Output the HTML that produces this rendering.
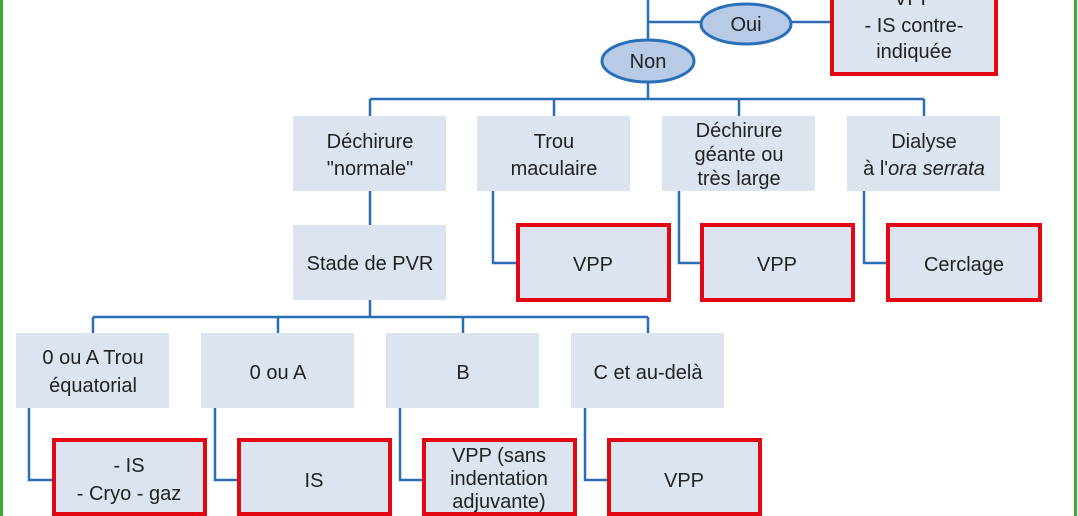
<!DOCTYPE html>
<html><head><meta charset="utf-8"><style>
body{margin:0;background:#fff}
svg{display:block}
text{font-family:"Liberation Sans",sans-serif;font-size:20px;fill:#222;text-anchor:middle}
</style></head><body>
<svg width="1078" height="516" viewBox="0 0 1078 516">
<rect x="0" y="0" width="3" height="516" fill="#3aa935"/>
<rect x="1074" y="0" width="3" height="516" fill="#3aa935"/>
<g stroke="#2a6fb5" stroke-width="2.5" fill="none">
<path d="M648 0V99M648 22H705M790 22H832"/>
<path d="M370 99H924M370 99V116M554 99V116M739 99V116M924 99V116"/>
<path d="M370 191V225M370 300V317M93 317H648M93 317V333M278 317V333M463 317V333M648 317V333"/>
<path d="M493 191V263H518M679 191V263H702M864 191V263H888"/>
<path d="M29 408V480H54M215 408V480H239M400 408V480H424M585 408V480H609"/>
</g>
<ellipse cx="746" cy="24" rx="45" ry="20" fill="#b7cbe6" stroke="#2a70b8" stroke-width="3"/>
<text x="746" y="31">Oui</text>
<ellipse cx="648" cy="61" rx="46" ry="21" fill="#b7cbe6" stroke="#2a70b8" stroke-width="3"/>
<text x="648" y="68">Non</text>
<g fill="#dce4f0">
<rect x="293" y="116" width="153" height="75"/>
<rect x="477" y="116" width="153" height="75"/>
<rect x="662" y="116" width="153" height="75"/>
<rect x="847" y="116" width="153" height="75"/>
<rect x="293" y="225" width="153" height="75"/>
<rect x="16" y="333" width="153" height="75"/>
<rect x="201" y="333" width="153" height="75"/>
<rect x="386" y="333" width="153" height="75"/>
<rect x="571" y="333" width="153" height="75"/>
</g>
<g fill="#dce4f0" stroke="#e30613" stroke-width="4">
<rect x="832" y="-10" width="164" height="84"/>
<rect x="518" y="225" width="151" height="75"/>
<rect x="702" y="225" width="151" height="75"/>
<rect x="888" y="225" width="152" height="75"/>
<rect x="54" y="440" width="151" height="74"/>
<rect x="239" y="440" width="151" height="74"/>
<rect x="424" y="440" width="151" height="74"/>
<rect x="609" y="440" width="151" height="74"/>
</g>
<text x="914" y="5">VPP</text>
<text x="914" y="32">- IS contre-</text>
<text x="914" y="58">indiquée</text>
<text x="370" y="148">Déchirure</text><text x="370" y="175">"normale"</text>
<text x="554" y="148">Trou</text><text x="554" y="175">maculaire</text>
<text x="739" y="137">Déchirure</text><text x="739" y="161">géante ou</text><text x="739" y="185">très large</text>
<text x="924" y="148">Dialyse</text><text x="924" y="175">à l'<tspan font-style="italic">ora serrata</tspan></text>
<text x="370" y="270">Stade de PVR</text>
<text x="593" y="271">VPP</text>
<text x="777" y="271">VPP</text>
<text x="964" y="271">Cerclage</text>
<text x="93" y="364">0 ou A Trou</text><text x="93" y="392">équatorial</text>
<text x="278" y="379">0 ou A</text>
<text x="463" y="379">B</text>
<text x="648" y="379">C et au-delà</text>
<text x="129" y="472">- IS</text><text x="129" y="500">- Cryo - gaz</text>
<text x="314" y="487">IS</text>
<text x="499" y="462">VPP (sans</text><text x="499" y="485">indentation</text><text x="499" y="508">adjuvante)</text>
<text x="684" y="487">VPP</text>
</svg>
</body></html>
